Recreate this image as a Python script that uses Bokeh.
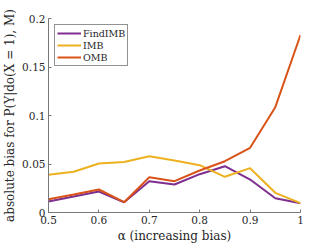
from bokeh.plotting import figure
from bokeh.models import FixedTicker, Range1d, Legend, LegendItem
from bokeh.embed import file_html
from bokeh.resources import INLINE

alpha = [0.5, 0.55, 0.6, 0.65, 0.7, 0.75, 0.8, 0.85, 0.9, 0.95, 1.0]
findimb = [0.0113, 0.0165, 0.0216, 0.0106, 0.0323, 0.0289, 0.0395, 0.0477, 0.0340, 0.0147, 0.0096]
imb = [0.0390, 0.0420, 0.0505, 0.0520, 0.0580, 0.0536, 0.0488, 0.0368, 0.0457, 0.0203, 0.0096]
omb = [0.0137, 0.0186, 0.0237, 0.0106, 0.0364, 0.0323, 0.0433, 0.0529, 0.0667, 0.1086, 0.1830]

x_ticks = [0.5, 0.6, 0.7, 0.8, 0.9, 1.0]
x_tick_labels = ["0.5", "0.6", "0.7", "0.8", "0.9", "1"]
y_ticks = [0, 0.05, 0.1, 0.15, 0.2]
y_tick_labels = ["0", "0.05", "0.1", "0.15", "0.2"]

series_names = ["FindIMB", "IMB", "OMB"]
series_colors = ["#7E2F8E", "#EDB120", "#D95319"]

FONT = "DejaVu Serif"

p = figure(width=332, height=249, output_backend="svg", toolbar_location=None,
           x_range=Range1d(0.5, 1.0), y_range=Range1d(0, 0.2),
           min_border_left=45, min_border_right=32, min_border_top=18, min_border_bottom=37)
p.outline_line_color = None
p.grid.visible = False
p.background_fill_color = "white"
p.border_fill_color = "white"

items = []
for name, ys, col in zip(series_names, [findimb, imb, omb], series_colors):
    r = p.line(alpha, ys, line_color=col, line_width=2)
    items.append(LegendItem(label=name, renderers=[r]))

legend = Legend(items=items, location="top_left")
legend.label_text_font = FONT
legend.label_text_font_size = "9.5px"
legend.label_text_color = "#262626"
legend.border_line_color = "#262626"
legend.border_line_width = 1
legend.padding = 2
legend.spacing = 0
legend.margin = 6
legend.label_height = 12
legend.glyph_height = 12
legend.glyph_width = 24
legend.label_standoff = 2
legend.background_fill_alpha = 1.0
p.add_layout(legend)

p.xaxis.ticker = FixedTicker(ticks=x_ticks)
p.xaxis.major_label_overrides = {t: l for t, l in zip(x_ticks, x_tick_labels)}
p.yaxis.ticker = FixedTicker(ticks=y_ticks)
p.yaxis.major_label_overrides = {t: l for t, l in zip(y_ticks, y_tick_labels)}

p.xaxis.axis_label = "α (increasing bias)"
p.yaxis.axis_label = "absolute bias for P(Y|do(X = 1), M)"

for ax in [p.xaxis[0], p.yaxis[0]]:
    ax.axis_line_color = "#777777"
    ax.major_tick_line_color = "#777777"
    ax.minor_tick_line_color = None
    ax.major_tick_in = 3
    ax.major_tick_out = 0
    ax.major_label_text_font = FONT
    ax.major_label_text_font_size = "10.5px"
    ax.major_label_text_color = "#262626"
    ax.axis_label_text_font = FONT
    ax.axis_label_text_font_size = "12px"
    ax.axis_label_text_font_style = "normal"
    ax.axis_label_text_color = "#262626"
    ax.major_label_standoff = 3
    ax.axis_label_standoff = 2

open("out.html", "w").write(file_html(p, INLINE))
